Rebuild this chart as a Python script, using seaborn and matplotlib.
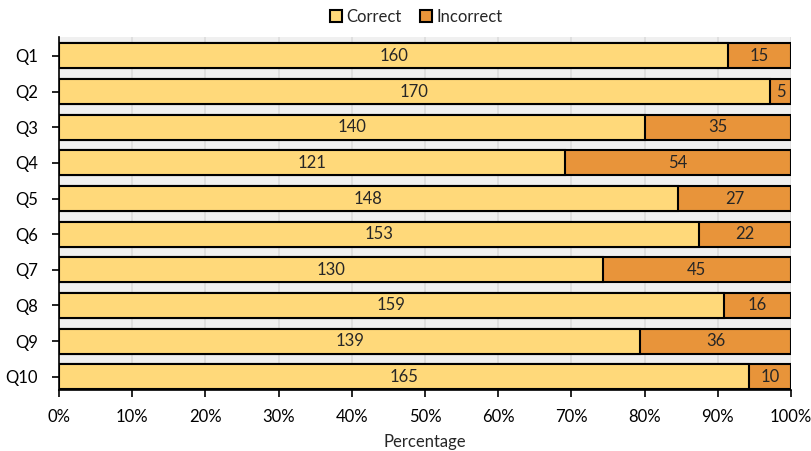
import pandas as pd
import numpy as np
import seaborn as sns
import matplotlib
matplotlib.use('Agg')
import matplotlib.pyplot as plt
from matplotlib.patches import Patch
from matplotlib.ticker import PercentFormatter

questions = ['Q1', 'Q2', 'Q3', 'Q4', 'Q5', 'Q6', 'Q7', 'Q8', 'Q9', 'Q10']
correct = [160, 170, 140, 121, 148, 153, 130, 159, 139, 165]
incorrect = [15, 5, 35, 54, 27, 22, 45, 16, 36, 10]

c_correct = '#FFD97A'
c_incorrect = '#E8943A'

df = pd.DataFrame({'Question': questions, 'Correct': correct, 'Incorrect': incorrect})
df['Total'] = df['Correct'] + df['Incorrect']
df['CorrectPct'] = df['Correct'] / df['Total'] * 100
df['TotalPct'] = 100.0

sns.set_style('ticks')
plt.rcParams['font.family'] = ['Lato', 'DejaVu Sans']
fs = 12

fig = plt.figure(figsize=(8.11, 4.51), dpi=100)
ax = fig.add_axes([0.0727, 0.1353, 0.9026, 0.7827])
ax.set_facecolor('#F0F0F0')

# full bar in the incorrect colour, correct share drawn on top
sns.barplot(data=df, y='Question', x='TotalPct', color=c_incorrect, orient='h',
            width=0.7, edgecolor='black', linewidth=1.5, saturation=1, ax=ax, zorder=3)
sns.barplot(data=df, y='Question', x='CorrectPct', color=c_correct, orient='h',
            width=0.7, edgecolor='black', linewidth=1.5, saturation=1, ax=ax, zorder=4)

for i in range(len(questions)):
    cp = df['CorrectPct'][i]
    ax.text(cp / 2, i, str(correct[i]), ha='center', va='center', fontsize=fs, zorder=5)
    ax.text(cp + (100 - cp) / 2, i, str(incorrect[i]), ha='center', va='center', fontsize=fs, zorder=5)

ax.set_xlim(0, 100)
ax.set_ylim(9.37, -0.53)
ax.xaxis.set_major_formatter(PercentFormatter(decimals=0))
ax.set_xticks(np.arange(0, 101, 10))
ax.grid(axis='x', color='#DCDCDC', linewidth=1.2, zorder=0)
ax.set_axisbelow(True)
ax.set_xlabel('Percentage', fontsize=fs, labelpad=6)
ax.set_ylabel('')
for s in ['top', 'right']:
    ax.spines[s].set_visible(False)
for s in ['left', 'bottom']:
    ax.spines[s].set_color('black')
    ax.spines[s].set_linewidth(1.2)
ax.tick_params(axis='both', colors='black', labelsize=fs, length=5, width=1.2)
ax.tick_params(axis='y', pad=10)
ax.tick_params(axis='x', pad=9)

handles = [Patch(facecolor=c_correct, edgecolor='black', linewidth=1.5, label='Correct'),
           Patch(facecolor=c_incorrect, edgecolor='black', linewidth=1.5, label='Incorrect')]
fig.legend(handles=handles, loc='center', bbox_to_anchor=(0.513, 0.963), ncol=2,
           frameon=False, fontsize=fs, handlelength=0.75, handleheight=0.75,
           handletextpad=0.25, columnspacing=1.1)

plt.savefig('out.png', dpi=100)
plt.close()
